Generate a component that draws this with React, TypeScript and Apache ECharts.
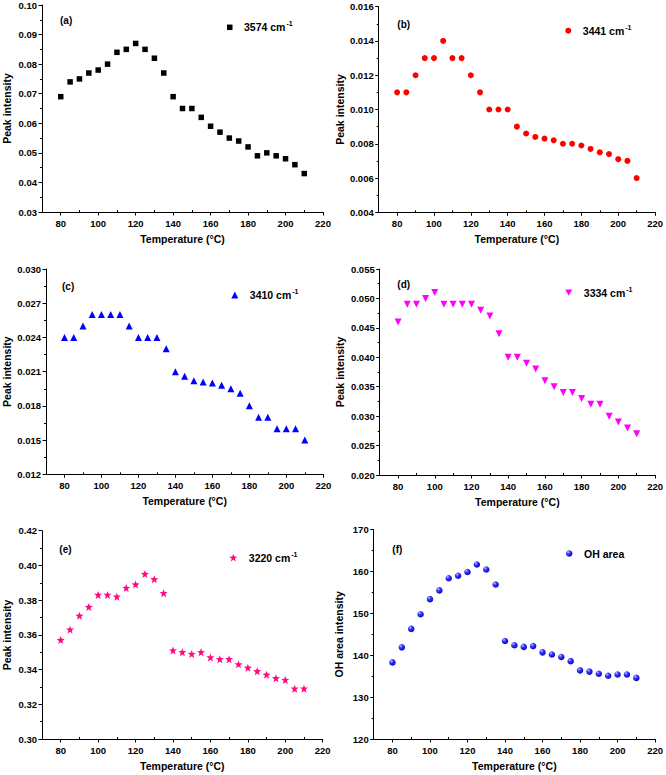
import React, { useEffect, useRef } from "react";
import * as echarts from "echarts";

// ---- data ----
const temperatures = [80, 85, 90, 95, 100, 105, 110, 115, 120, 125, 130, 135, 140, 145, 150, 155, 160, 165, 170, 175, 180, 185, 190, 195, 200, 205, 210];

const peak3574 = [0.069, 0.074, 0.075, 0.077, 0.078, 0.080, 0.084, 0.085, 0.087, 0.085, 0.082, 0.077, 0.069, 0.065, 0.065, 0.062, 0.059, 0.057, 0.055, 0.054, 0.052, 0.049, 0.050, 0.049, 0.048, 0.046, 0.043];
const peak3441 = [0.011, 0.011, 0.012, 0.013, 0.013, 0.014, 0.013, 0.013, 0.012, 0.011, 0.010, 0.010, 0.010, 0.009, 0.0086, 0.0084, 0.0083, 0.0082, 0.0080, 0.0080, 0.0079, 0.0077, 0.0075, 0.0074, 0.0071, 0.0070, 0.0060];
const peak3410 = [0.024, 0.024, 0.025, 0.026, 0.026, 0.026, 0.026, 0.025, 0.024, 0.024, 0.024, 0.023, 0.021, 0.0206, 0.0202, 0.0201, 0.0200, 0.0198, 0.0195, 0.0191, 0.018, 0.017, 0.017, 0.016, 0.016, 0.016, 0.015];
const peak3334 = [0.046, 0.049, 0.049, 0.050, 0.051, 0.049, 0.049, 0.049, 0.049, 0.048, 0.047, 0.044, 0.040, 0.040, 0.039, 0.038, 0.036, 0.035, 0.034, 0.034, 0.033, 0.032, 0.032, 0.030, 0.029, 0.028, 0.027];
const peak3220 = [0.357, 0.363, 0.371, 0.376, 0.383, 0.383, 0.382, 0.387, 0.389, 0.395, 0.392, 0.384, 0.351, 0.350, 0.349, 0.350, 0.347, 0.346, 0.346, 0.343, 0.341, 0.339, 0.337, 0.335, 0.334, 0.329, 0.329];
const ohArea = [138.3, 141.9, 146.3, 149.8, 153.4, 155.5, 158.4, 159.0, 159.9, 161.7, 160.5, 156.9, 143.4, 142.4, 142.0, 142.2, 140.7, 140.2, 139.6, 138.6, 136.4, 136.1, 135.6, 135.1, 135.4, 135.4, 134.6];

const xMajorTicks = [80, 100, 120, 140, 160, 180, 200, 220];
const xMinorTicks = [90, 110, 130, 150, 170, 190, 210];

const panelTags = ["(a)", "(b)", "(c)", "(d)", "(e)", "(f)"];
const legendMain = ["3574 cm", "3441 cm", "3410 cm", "3334 cm", "3220 cm", "OH area"];
const legendSup = ["-1", "-1", "-1", "-1", "-1", ""];
const yTitles = ["Peak intensity", "Peak intensity", "Peak intensity", "Peak intensity", "Peak intensity", "OH area intensity"];
const xTitle = "Temperature (\u00B0C)";

const yMins = [0.03, 0.004, 0.012, 0.02, 0.3, 120];
const yMaxs = [0.1, 0.016, 0.03, 0.055, 0.42, 170];
const yIntervals = [0.01, 0.002, 0.003, 0.005, 0.02, 10];
const yDecimals = [2, 3, 3, 3, 2, 0];

const seriesValues = [peak3574, peak3441, peak3410, peak3334, peak3220, ohArea];

// ---- layout & styles ----
const FONT = "'Liberation Sans', Arial, Helvetica, sans-serif";
const layout = [
  { left: 41.7, top: 4.3, width: 281.3, height: 207.7, nameGap: 30, legendLeft: 227, legendTop: 20.3, tagX: 60, tagY: 20.3 },
  { left: 378.7, top: 6.7, width: 277.6, height: 205.6, nameGap: 33, legendLeft: 565.3, legendTop: 23.7, tagX: 397.3, tagY: 24.3 },
  { left: 45.7, top: 269, width: 277.6, height: 205.3, nameGap: 34, legendLeft: 231.3, legendTop: 288, tagX: 62, tagY: 286.7 },
  { left: 379.7, top: 269, width: 276.6, height: 206, nameGap: 34, legendLeft: 565.3, legendTop: 285.7, tagX: 397.3, tagY: 284.3 },
  { left: 41, top: 530.7, width: 281.7, height: 208.3, nameGap: 30, legendLeft: 229.3, legendTop: 550.7, tagX: 59.3, tagY: 549.3 },
  { left: 373.7, top: 529.7, width: 282, height: 209.3, nameGap: 29, legendLeft: 566, legendTop: 548, tagX: 392.3, tagY: 549.3 },
];

const starPath = "path://M50,0 L63,33 L100,35 L71,58 L81,95 L50,74 L19,95 L29,58 L0,35 L37,33 Z";
const downTriPath = "path://M0,0 L10,0 L5,9 Z";
const sphere = {
  type: "radial",
  x: 0.35,
  y: 0.3,
  r: 0.75,
  colorStops: [
    { offset: 0, color: "#c8c8ff" },
    { offset: 0.35, color: "#3a3aff" },
    { offset: 1, color: "#0000c0" },
  ],
};
const markerStyles: any[] = [
  { symbol: "rect", size: 5.5, color: "#000000" },
  { symbol: "circle", size: 6, color: "#ff0000" },
  { symbol: "triangle", size: 7, color: "#0000ff" },
  { symbol: downTriPath, size: 7, color: "#ff00ff" },
  { symbol: starPath, size: 8, color: "#ff0a84" },
  { symbol: "circle", size: 6.5, color: sphere },
];

function buildOption() {
  const grid: any[] = [];
  const xAxis: any[] = [];
  const yAxis: any[] = [];
  const series: any[] = [];
  const legend: any[] = [];
  const graphic: any[] = [];

  layout.forEach((L, i) => {
    grid.push({ left: L.left, top: L.top, width: L.width, height: L.height, containLabel: false });
    xAxis.push({
      type: "value",
      gridIndex: i,
      min: 70,
      max: 220,
      name: xTitle,
      nameLocation: "middle",
      nameGap: 21,
      nameMoveOverlap: false,
      nameTextStyle: { fontFamily: FONT, fontWeight: "bold", fontSize: 10.5, color: "#000" },
      splitLine: { show: false },
      axisLine: { show: true, onZero: false, lineStyle: { color: "#000", width: 1 } },
      axisTick: { show: true, length: 3.5, inside: false, customValues: xMajorTicks, lineStyle: { color: "#000", width: 1 } },
      axisLabel: { show: true, customValues: xMajorTicks, margin: 6, fontFamily: FONT, fontWeight: "bold", fontSize: 9.5, color: "#000" },
    });
    xAxis.push({
      type: "value",
      gridIndex: i,
      min: 70,
      max: 220,
      position: "bottom",
      splitLine: { show: false },
      axisLine: { show: false, onZero: false },
      axisTick: { show: true, length: 2, inside: true, customValues: xMinorTicks, lineStyle: { color: "#000", width: 1 } },
      axisLabel: { show: false },
    });
    const dec = yDecimals[i];
    yAxis.push({
      type: "value",
      gridIndex: i,
      min: yMins[i],
      max: yMaxs[i],
      interval: yIntervals[i],
      name: yTitles[i],
      nameLocation: "middle",
      nameGap: L.nameGap,
      nameMoveOverlap: false,
      nameTextStyle: { fontFamily: FONT, fontWeight: "bold", fontSize: 10.5, color: "#000" },
      splitLine: { show: false },
      axisLine: { show: true, onZero: false, lineStyle: { color: "#000", width: 1 } },
      axisTick: { show: true, length: 3.5, inside: false, lineStyle: { color: "#000", width: 1 } },
      minorTick: { show: true, splitNumber: 2, length: 2, lineStyle: { color: "#000", width: 1 } },
      minorSplitLine: { show: false },
      axisLabel: {
        margin: 5,
        fontFamily: FONT,
        fontWeight: "bold",
        fontSize: 9.5,
        color: "#000",
        formatter: (v: number) => v.toFixed(dec),
      },
    });
    const m = markerStyles[i];
    const name = legendMain[i] + legendSup[i];
    series.push({
      type: "scatter",
      name,
      xAxisIndex: 2 * i,
      yAxisIndex: i,
      symbol: m.symbol,
      symbolSize: m.size,
      itemStyle: { color: m.color, opacity: 1 },
      data: temperatures.map((t, j) => [t, seriesValues[i][j]]),
    });
    const sup = legendSup[i];
    legend.push({
      data: [name],
      left: L.legendLeft,
      top: L.legendTop,
      padding: 0,
      itemWidth: m.size,
      itemHeight: m.size,
      selectedMode: false,
      formatter: () => (sup ? `{t|${legendMain[i]}}{s|${sup}}` : `{t|${legendMain[i]}}`),
      textStyle: {
        rich: {
          t: { fontFamily: FONT, fontWeight: "bold", fontSize: 10.5, color: "#000", lineHeight: 14, padding: [0, 0, 0, 6.5] },
          s: { fontFamily: FONT, fontWeight: "bold", fontSize: 7, color: "#000", lineHeight: 14, verticalAlign: "top", padding: [0, 0, 5, 1] },
        },
      },
    });
    graphic.push({
      type: "text",
      x: L.tagX,
      y: L.tagY,
      style: {
        text: panelTags[i],
        fontFamily: FONT,
        fontWeight: "bold",
        fontSize: 10,
        fill: "#000",
        verticalAlign: "middle",
        align: "left",
      },
    });
  });

  return {
    animation: false,
    backgroundColor: "#ffffff",
    grid,
    xAxis,
    yAxis,
    series,
    legend,
    graphic,
  };
}

export default function App() {
  const ref = useRef<HTMLDivElement>(null);
  useEffect(() => {
    document.body.style.margin = "0";
    const chart = echarts.init(ref.current!, null, { renderer: "svg" });
    chart.setOption(buildOption() as any);
    return () => chart.dispose();
  }, []);
  return <div ref={ref} style={{ width: 666, height: 775 }} />;
}
